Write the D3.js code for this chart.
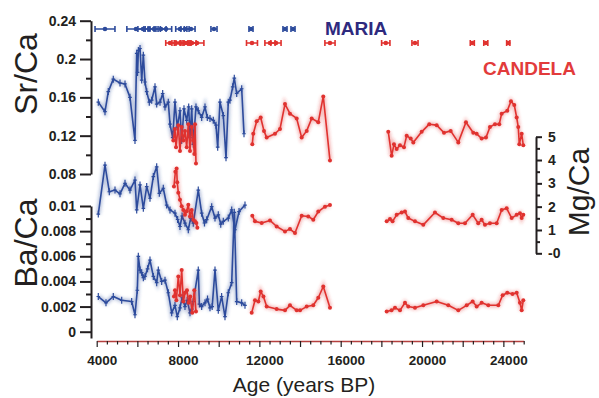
<!DOCTYPE html>
<html>
<head>
<meta charset="utf-8">
<script src="https://cdn.jsdelivr.net/npm/d3@7"></script>
<style>
  body { margin: 0; background: #fff; }
  svg { display: block; font-family: "Liberation Sans", Arial, sans-serif; }
  .axis text { font-weight: bold; fill: #231f20; }
</style>
</head>
<body>
<div id="chart"></div>
<script>
// age (years BP), value ; null value = gap in the record
const mariaSr = [[4079,0.155],[4408,0.145],[4570,0.166],[4816,0.179],[5146,0.175],[5392,0.174],[5637,0.160],[5883,0.115],[5967,0.206],[6010,0.186],[6050,0.209],[6130,0.211],[6213,0.178],[6294,0.204],[6375,0.176],[6459,0.166],[6587,0.155],[6705,0.157],[6867,0.171],[6950,0.153],[7113,0.155],[7245,0.164],[7359,0.150],[7521,0.155],[7605,0.132],[7737,0.118],[7850,0.155],[7964,0.129],[8096,0.146],[8180,0.115],[8293,0.148],[8426,0.136],[8524,0.150],[8588,0.118],[8672,0.148],[8750,0.111],[8883,0.150],[8996,0.146],[9163,0.139],[9326,0.150],[9439,0.139],[9572,0.138],[9734,0.136],[9867,0.131],[9950,0.108],[10063,0.155],[10226,0.141],[10359,0.097],[10471,0.155],[10555,0.157],[10688,0.171],[10767,0.180],[10885,0.164],[11130,0.169],[11244,0.122]]
const candelaSr = [[7768,0.115],[7850,0.127],[7900,0.108],[8013,0.131],[8096,0.104],[8180,0.129],[8260,0.115],[8342,0.125],[8426,0.108],[8505,0.132],[8588,0.104],[8672,0.129],[8750,0.115],[8800,0.101],[8835,0.132],[8883,0.091],[10000,null],
  [11652,0.111],[11700,0.122],[11868,0.135],[12065,0.139],[12227,0.125],[12360,0.118],[12768,0.122],[13014,0.127],[13260,0.153],[13506,0.143],[13835,0.138],[14081,0.118],[14327,0.125],[14573,0.138],[14897,0.134],[15143,0.161],[15473,0.094],[16500,null],
  [18340,0.124],[18506,0.099],[18620,0.111],[18753,0.106],[18915,0.110],[19112,0.108],[19245,0.120],[19442,0.117],[19570,0.113],[19982,0.124],[20356,0.132],[20720,0.131],[21080,0.123],[21408,0.125],[21783,0.113],[22160,0.134],[22520,0.123],[22686,0.122],[22932,0.117],[23144,0.118],[23341,0.129],[23587,0.132],[23798,0.132],[23916,0.143],[24192,0.146],[24374,0.156],[24536,0.152],[24654,0.139],[24733,0.129],[24783,0.111],[24900,0.122],[24980,0.110]]

const mariaMg = [[4079,1.68],[4408,3.78],[4620,2.64],[4900,2.71],[5146,2.55],[5392,3.00],[5637,2.71],[5883,3.14],[5967,1.86],[6130,2.93],[6294,1.93],[6459,2.86],[6621,2.36],[6785,3.29],[6950,3.71],[7080,2.57],[7275,2.79],[7442,2.07],[7605,1.86],[7850,1.72],[7980,1.45],[8096,1.15],[8200,1.60],[8342,1.29],[8505,1.01],[8620,1.50],[8750,1.29],[8996,2.71],[9163,1.72],[9300,1.30],[9409,1.44],[9655,2.00],[9818,1.51],[9980,1.65],[10100,1.25],[10226,1.37],[10471,1.51],[10639,1.86],[10800,1.01],[11000,1.79],[11293,2.07]]
const candelaMg = [[7800,2.86],[7870,3.50],[7930,3.64],[7960,3.05],[8013,2.60],[8096,2.30],[8180,2.02],[8260,1.86],[8342,1.65],[8420,1.80],[8505,2.08],[8588,1.58],[8672,1.86],[8750,1.44],[8835,1.37],[8900,1.30],[8950,1.10],[10000,null],
  [11652,1.61],[11785,1.37],[12114,1.30],[12522,1.41],[12850,1.15],[13260,0.94],[13506,1.04],[13752,0.87],[14081,1.61],[14405,1.58],[14651,1.44],[14897,1.79],[15227,2.00],[15473,2.07],[16500,null],
  [18261,1.37],[18424,1.47],[18550,1.37],[18753,1.65],[19000,1.75],[19161,1.79],[19323,1.51],[19653,1.37],[20062,1.22],[20636,1.75],[21045,1.51],[21457,1.44],[21783,1.29],[22112,1.29],[22490,1.65],[22766,1.29],[22932,1.44],[23095,1.22],[23341,1.29],[23670,1.29],[23916,1.86],[24162,1.93],[24408,1.51],[24654,1.65],[24816,1.72],[24900,1.51],[24980,1.65]]

const mariaBa = [[4079,0.0028],[4457,0.0023],[4816,0.0028],[5229,0.0025],[5720,0.0024],[5883,0.00135],[5997,0.0033],[6047,0.0060],[6130,0.0049],[6213,0.0047],[6294,0.0043],[6375,0.0044],[6500,0.0050],[6621,0.0057],[6785,0.0044],[6950,0.0039],[7030,0.0049],[7196,0.0040],[7359,0.0041],[7521,0.0031],[7688,0.0015],[7850,0.0021],[7964,0.0012],[8096,0.0019],[8200,0.0027],[8342,0.0020],[8450,0.0025],[8588,0.0015],[8680,0.0018],[8750,0.0024],[8996,0.0049],[9050,0.0022],[9163,0.0020],[9326,0.0023],[9450,0.0026],[9572,0.0019],[9680,0.0020],[9818,0.0049],[9980,0.0017],[10145,0.0028],[10309,0.0012],[10471,0.0031],[10639,0.0039],[10767,0.0095],[10885,0.0024],[11130,0.0023],[11293,0.0021]]
const candelaBa = [[7800,0.0028],[7850,0.0033],[7920,0.0025],[8013,0.0044],[8096,0.0029],[8180,0.0049],[8260,0.0024],[8342,0.0031],[8440,0.0033],[8520,0.0023],[8600,0.0028],[8700,0.0015],[8800,0.0033],[8883,0.0016],[10000,null],
  [11622,0.0015],[11785,0.0025],[11950,0.0024],[12065,0.0032],[12200,0.0028],[12360,0.0020],[12850,0.0018],[13260,0.0017],[13506,0.0021],[13835,0.0017],[14000,0.0017],[14327,0.0020],[14651,0.0021],[14897,0.0027],[15143,0.0036],[15473,0.0019],[16500,null],
  [18261,0.0016],[18500,0.0017],[18670,0.0019],[18915,0.0017],[19161,0.0023],[19323,0.0020],[19653,0.0019],[20062,0.0021],[20720,0.0024],[21290,0.0021],[21783,0.0017],[22195,0.0021],[22490,0.0024],[22686,0.0020],[22932,0.0023],[23260,0.0021],[23750,0.0021],[23965,0.0029],[24192,0.0031],[24450,0.0030],[24654,0.0031],[24816,0.0023],[24900,0.0017],[24980,0.0025]]

// U/Th dates: age, 2 sigma error
const mariaDates = [[4408,490],[5933,450],[6277,250],[6572,250],[6818,200],[7162,250],[7408,280],[8096,210],[8342,200],[8637,200],[9768,150],[11588,100],[13260,100],[13654,100]]
const candelaDates = [[7605,210],[7900,200],[8096,200],[8342,200],[8440,200],[8686,200],[8932,340],[11637,270],[12522,250],[12817,250],[15473,250],[18217,205],[19653,150],[22472,100],[23136,100],[24241,80]]

const ageTicks = [4000,4500,5000,5500,6000,6500,7000,7500,8000,8500,9000,9500,10000,10500,11000,11500,12000,12500,13000,13500,14000,14500,15000,15500,16000,16500,17000,17500,18000,18500,19000,19500,20000,20500,21000,21500,22000,22500,23000,23500,24000,24500,25000]
const ageLabels = [4000, 8000, 12000, 16000, 20000, 24000]
const srTicks = [0.08, 0.10, 0.12, 0.14, 0.16, 0.18, 0.20, 0.22, 0.24]
const srLabels = [0.08, 0.12, 0.16, 0.2, 0.24]
const baTicks = [0, 0.001, 0.002, 0.003, 0.004, 0.005, 0.006, 0.007, 0.008, 0.009, 0.01]
const baLabels = [0, 0.002, 0.004, 0.006, 0.008, 0.01]
const mgTicks = [0, 0.5, 1, 1.5, 2, 2.5, 3, 3.5, 4, 4.5, 5]
const mgLabels = [0, 1, 2, 3, 4, 5]

const blue = "#2d4b9c", red = "#e0322f", ink = "#231f20"

const svg = d3.select("#chart").append("svg")
  .attr("width", 599)
  .attr("height", 398)

const defs = svg.append("defs")
defs.append("filter").attr("id", "haze")
  .attr("x", "-10%").attr("y", "-10%").attr("width", "120%").attr("height", "120%")
  .append("feGaussianBlur").attr("stdDeviation", 1.6)

const x = d3.scaleLinear().domain([4000, 25000]).range([96.7, 523.7])
const ySr = d3.scaleLinear().domain([0.08, 0.24]).range([174, 20.7])
const yMg = d3.scaleLinear().domain([0, 5]).range([253.3, 136.7])
const yBa = d3.scaleLinear().domain([-0.0005, 0.01]).range([338, 206])

const has = (arr, d) => arr.some(v => Math.abs(v - d) < 1e-9)

// axes
const xAxis = svg.append("g")
  .attr("class", "axis")
  .attr("transform", "translate(0,341)")
  .call(d3.axisBottom(x).tickValues(ageTicks).tickSizeOuter(0)
    .tickFormat(d => has(ageLabels, d) ? d : ""))
xAxis.select(".domain").attr("stroke", "#b5403f").attr("stroke-width", 1.5)
xAxis.selectAll(".tick line").attr("stroke", ink).attr("stroke-width", 1.2)
  .attr("y2", d => d % 2000 === 0 ? 6 : 3.5)
xAxis.selectAll(".tick text").attr("y", 14).attr("dx", 5).attr("font-size", 13.5)

function leftAxis(scale, ticks, labels) {
  const g = svg.append("g")
    .attr("class", "axis")
    .attr("transform", "translate(91,0)")
    .call(d3.axisLeft(scale).tickValues(ticks).tickSizeOuter(0).tickPadding(4)
      .tickFormat(d => has(labels, d) ? String(+d.toFixed(3)) : ""))
  g.select(".domain").attr("stroke", ink).attr("stroke-width", 2)
  g.selectAll(".tick line").attr("stroke", ink).attr("stroke-width", 2)
    .attr("x2", d => has(labels, d) ? -11 : -5)
  g.selectAll(".tick text").attr("x", -15).attr("font-size", 14)
  return g
}
leftAxis(ySr, srTicks, srLabels)
leftAxis(yBa, baTicks, baLabels)

const mgAxis = svg.append("g")
  .attr("class", "axis")
  .attr("transform", "translate(536,0)")
  .call(d3.axisRight(yMg).tickValues(mgTicks).tickSizeOuter(0)
    .tickFormat(d => has(mgLabels, d) ? (d === 0 ? "-0" : d) : ""))
mgAxis.select(".domain").attr("stroke", ink).attr("stroke-width", 2)
mgAxis.selectAll(".tick line").attr("stroke", ink).attr("stroke-width", 2)
  .attr("x2", d => has(mgLabels, d) ? 6 : 4)
mgAxis.selectAll(".tick text").attr("x", 12).attr("font-size", 14)

// series
function drawSeries(data, yScale, color, marker) {
  const line = d3.line()
    .defined(d => d[1] != null)
    .x(d => x(d[0]))
    .y(d => yScale(d[1]))
  const pts = data.filter(d => d[1] != null)

  svg.append("path")
    .datum(data)
    .attr("d", line)
    .attr("fill", "none")
    .attr("stroke", color)
    .attr("stroke-opacity", 0.3)
    .attr("stroke-width", 5)
    .attr("filter", "url(#haze)")

  svg.append("path")
    .datum(data)
    .attr("d", line)
    .attr("fill", "none")
    .attr("stroke", color)
    .attr("stroke-width", 1.6)
    .attr("stroke-linejoin", "round")

  if (marker === "cross") {
    svg.append("g").selectAll("path")
      .data(pts)
      .join("path")
      .attr("d", d => {
        const px = x(d[0]), py = yScale(d[1])
        return `M${px},${py - 3.5}V${py + 3.5}M${px - 1.8},${py}H${px + 1.8}`
      })
      .attr("stroke", color)
      .attr("stroke-width", 1.2)
  } else {
    svg.append("g").selectAll("circle")
      .data(pts)
      .join("circle")
      .attr("cx", d => x(d[0]))
      .attr("cy", d => yScale(d[1]))
      .attr("r", 2)
      .attr("fill", color)
  }
}

drawSeries(mariaSr, ySr, blue, "cross")
drawSeries(mariaMg, yMg, blue, "cross")
drawSeries(mariaBa, yBa, blue, "cross")
drawSeries(candelaSr, ySr, red, "dot")
drawSeries(candelaMg, yMg, red, "dot")
drawSeries(candelaBa, yBa, red, "dot")

// dating points with error bars
function drawDates(dates, rowY, color) {
  const g = svg.append("g").attr("stroke", color).attr("fill", color)
  const bar = g.selectAll("g")
    .data(dates)
    .join("g")
  bar.append("path")
    .attr("d", d => {
      const a = x(d[0] - d[1]), b = x(d[0] + d[1])
      return `M${a},${rowY}H${b}M${a},${rowY - 3}V${rowY + 3}M${b},${rowY - 3}V${rowY + 3}`
    })
    .attr("stroke-width", 1.6)
    .attr("fill", "none")
  bar.append("circle")
    .attr("cx", d => x(d[0]))
    .attr("cy", rowY)
    .attr("r", 2.3)
    .attr("stroke", "none")
}
drawDates(mariaDates, 29, blue)
drawDates(candelaDates, 43, red)

// labels
svg.append("text")
  .attr("transform", "translate(37,74) rotate(-90)")
  .attr("text-anchor", "middle")
  .attr("font-size", 32)
  .attr("fill", ink)
  .text("Sr/Ca")

svg.append("text")
  .attr("transform", "translate(37,243) rotate(-90)")
  .attr("text-anchor", "middle")
  .attr("font-size", 32)
  .attr("fill", ink)
  .text("Ba/Ca")

svg.append("text")
  .attr("transform", "translate(589,192) rotate(-90)")
  .attr("text-anchor", "middle")
  .attr("font-size", 30)
  .attr("fill", ink)
  .text("Mg/Ca")

svg.append("text")
  .attr("x", 304)
  .attr("y", 392)
  .attr("text-anchor", "middle")
  .attr("font-size", 21)
  .attr("fill", ink)
  .text("Age (years BP)")

svg.append("text")
  .attr("x", 325)
  .attr("y", 35)
  .attr("font-size", 19)
  .attr("font-weight", "bold")
  .attr("fill", "#2e2a7e")
  .text("MARIA")

svg.append("text")
  .attr("x", 483)
  .attr("y", 75)
  .attr("font-size", 19)
  .attr("font-weight", "bold")
  .attr("fill", "#e23b3b")
  .text("CANDELA")
</script>
</body>
</html>
